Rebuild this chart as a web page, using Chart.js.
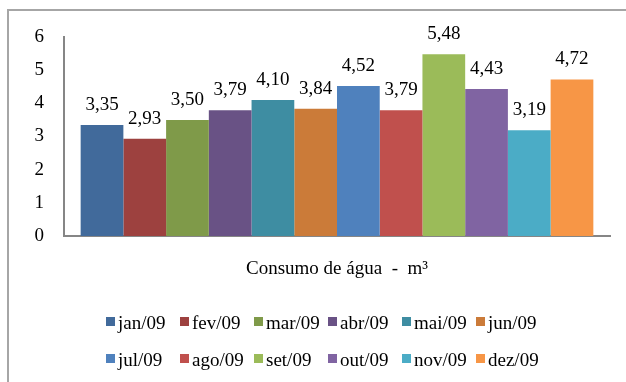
<!DOCTYPE html>
<html>
<head>
<meta charset="utf-8">
<script src="https://cdn.jsdelivr.net/npm/chart.js@4.4.0/dist/chart.umd.min.js"></script>
<style>
  html, body { margin: 0; padding: 0; background: #fff; overflow: hidden; }
  #wrap { position: relative; width: 626px; height: 382px; overflow: hidden; }
  #frame { position: absolute; left: 7px; top: 9px; right: 0; bottom: 0;
           border-top: 2px solid #a6a6a6; border-left: 2px solid #a6a6a6; }
  #chart { position: absolute; left: 0; top: 0; }
  #legend { position: absolute; left: 106px; top: 304px;
            display: grid; grid-template-columns: repeat(6, 74px);
            font: 19px "Liberation Serif", "Times New Roman", serif; color: #000; }
  #legend .item { display: flex; align-items: center; height: 37px; white-space: nowrap; }
  #legend .box { width: 9px; height: 9px; margin-right: 3px; position: relative; top: -1px; }
</style>
</head>
<body>
<div id="wrap">
  <div id="frame"></div>
  <canvas id="chart" width="626" height="382"></canvas>
  <div id="legend"></div>
</div>
<script>
// Data
const category = ['Consumo de água  -  m³'];
const months = ['jan/09', 'fev/09', 'mar/09', 'abr/09', 'mai/09', 'jun/09',
                'jul/09', 'ago/09', 'set/09', 'out/09', 'nov/09', 'dez/09'];
const consumo = [3.35, 2.93, 3.50, 3.79, 4.10, 3.84, 4.52, 3.79, 5.48, 4.43, 3.19, 4.72];
const colors = ['#416a9b', '#9d413f', '#7f9a49', '#695285', '#3e8da2', '#cb7b39',
                '#4f81bd', '#c0504d', '#9bbb59', '#8064a2', '#4bacc6', '#f79646'];
const yTicks = [0, 1, 2, 3, 4, 5, 6];

const serif = '"Liberation Serif", "Times New Roman", serif';

// value labels above each bar, decimal comma
const barLabels = {
  id: 'barLabels',
  afterDatasetsDraw(chart) {
    const ctx = chart.ctx;
    ctx.save();
    ctx.font = '19px ' + serif;
    ctx.fillStyle = '#000';
    ctx.textAlign = 'center';
    ctx.textBaseline = 'alphabetic';
    chart.data.datasets.forEach((ds, i) => {
      const bar = chart.getDatasetMeta(i).data[0];
      ctx.fillText(ds.data[0].toFixed(2).replace('.', ','), bar.x, bar.y - 15);
    });
    ctx.restore();
  }
};

const data = {
  labels: category,
  datasets: months.map((m, i) => ({
    label: m,
    data: [consumo[i]],
    backgroundColor: colors[i],
    borderWidth: 0
  }))
};

const chart = new Chart(document.getElementById('chart'), {
  type: 'bar',
  data: data,
  plugins: [barLabels],
  options: {
    responsive: false,
    animation: false,
    layout: { padding: { left: 8, top: 37, right: 16, bottom: 0 } },
    datasets: { bar: { categoryPercentage: 0.939, barPercentage: 1 } },
    plugins: {
      legend: { display: false },
      tooltip: { enabled: false }
    },
    scales: {
      x: {
        grid: { display: false, drawTicks: false },
        border: { color: '#868686', width: 2 },
        ticks: { color: '#000', padding: 22, font: { family: serif, size: 19 } },
        afterFit(scale) { scale.height = 146; }
      },
      y: {
        min: 0,
        max: 6,
        afterBuildTicks(scale) { scale.ticks = yTicks.map(v => ({ value: v })); },
        grid: { display: false, drawTicks: false },
        border: { color: '#868686', width: 2 },
        ticks: { color: '#000', padding: 20, font: { family: serif, size: 19 } },
        afterFit(scale) { scale.width = 56; }
      }
    }
  }
});

// legend in two rows of six, columns aligned like the original
const legend = document.getElementById('legend');
months.forEach((m, i) => {
  const item = document.createElement('div');
  item.className = 'item';
  const box = document.createElement('span');
  box.className = 'box';
  box.style.background = colors[i];
  item.appendChild(box);
  item.appendChild(document.createTextNode(m));
  legend.appendChild(item);
});
</script>
</body>
</html>
